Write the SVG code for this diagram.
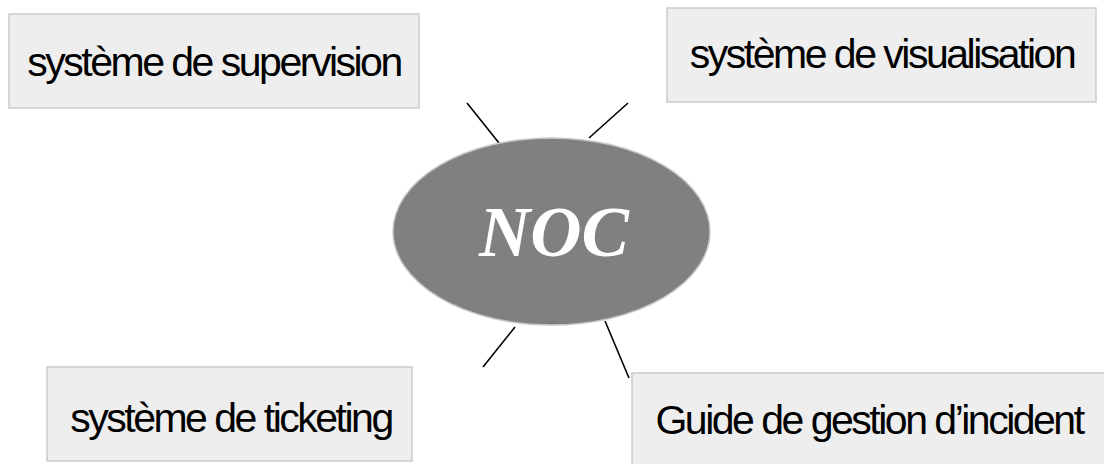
<svg xmlns="http://www.w3.org/2000/svg" width="1104" height="464" viewBox="0 0 1104 464">
<style>
.box{fill:#eeeeee;stroke:#cccccc;stroke-width:1.5}
.lbl{font-family:"Liberation Sans",Arial,sans-serif;font-size:41px;letter-spacing:-2.5px;fill:#000;text-anchor:middle}
.conn{stroke:#000;stroke-width:1.6;fill:none}
</style>
<rect width="1104" height="464" fill="#ffffff"/>
<g id="connectors">
<line class="conn" x1="467" y1="103" x2="499" y2="143"/>
<line class="conn" x1="628" y1="103" x2="589" y2="138"/>
<line class="conn" x1="515" y1="327" x2="483" y2="367"/>
<line class="conn" x1="605" y1="321" x2="629" y2="378"/>
</g>
<g id="noc">
<ellipse cx="551.5" cy="231.5" rx="158.5" ry="93.5" fill="#808080" stroke="#c8c8c8" stroke-width="1.5"/>
<text x="554" y="256" font-family="'Liberation Serif','Times New Roman',serif" font-size="71" font-weight="bold" font-style="italic" fill="#ffffff" text-anchor="middle">NOC</text>
</g>
<g id="supervision">
<rect class="box" x="9" y="14" width="410" height="94"/>
<text class="lbl" x="214" y="76">système de supervision</text>
</g>
<g id="visualisation">
<rect class="box" x="667" y="8" width="429" height="94"/>
<text class="lbl" x="882" y="68">système de visualisation</text>
</g>
<g id="ticketing">
<rect class="box" x="47" y="367" width="365" height="94"/>
<text class="lbl" x="231" y="432">système de ticketing</text>
</g>
<g id="guide">
<rect class="box" x="632" y="373" width="476" height="96"/>
<text class="lbl" x="869" y="434">Guide de gestion d’incident</text>
</g>
</svg>
